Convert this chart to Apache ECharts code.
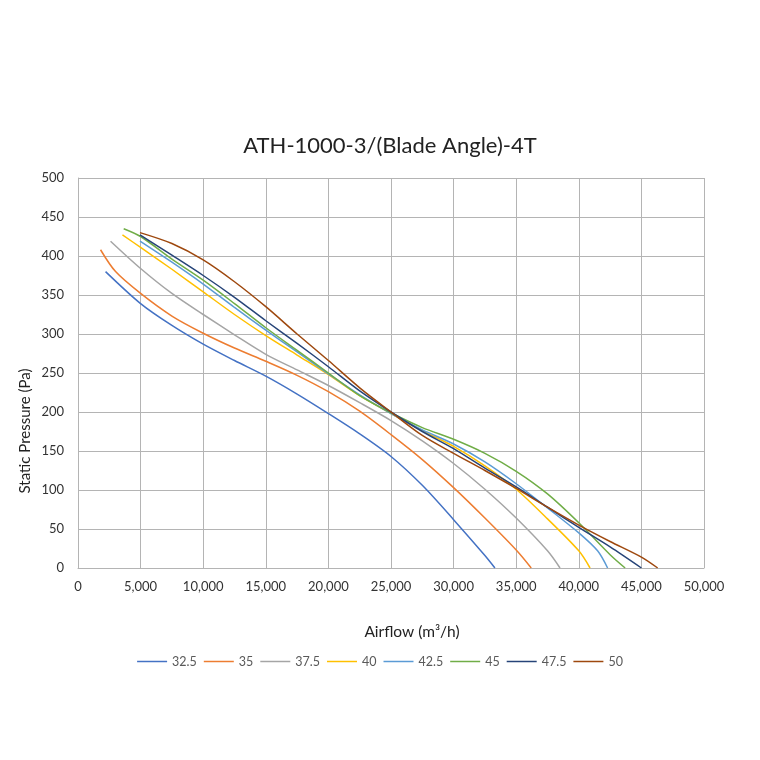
<!DOCTYPE html>
<html>
<head>
    <meta charset="utf-8">
    <title>ATH-1000-3 fan curves</title>
    <script src="https://cdn.jsdelivr.net/npm/echarts@6/dist/echarts.min.js"></script>
    <style>
        body { margin: 0; background: #fff; }
    </style>
</head>
<body>
    <div id="main" style="width: 760px;height:760px;"></div>

    <script type="text/javascript">

        // blade angles (legend names)
        var angles = ['32.5', '35', '37.5', '40', '42.5', '45', '47.5', '50'];
        var colors = ['#4472C4', '#ED7D31', '#A5A5A5', '#FFC000', '#5B9BD5', '#70AD47', '#264478', '#9E480E'];

        // airflow (m3/h) and static pressure (Pa)
        var flow325 = [2200, 5000, 7500, 10000, 12500, 15000, 17500, 20000, 22500, 25000, 27500, 30000, 32500, 33300];
        var pres325 = [380, 339, 311, 287, 266, 246, 223, 198, 172, 143, 106, 62, 16, 0];

        var flow35 = [1800, 3000, 5000, 7500, 10000, 12500, 15000, 17500, 20000, 22500, 25000, 27500, 30000, 32500, 35000, 36200];
        var pres35 = [408, 380, 352, 323, 301, 282, 265, 247, 226, 201, 171, 139, 103, 64, 23, 0];

        var flow375 = [2600, 5000, 7500, 10000, 12500, 15000, 17500, 20000, 22500, 25000, 27500, 30000, 32500, 35000, 37500, 38500];
        var pres375 = [419, 384, 352, 325, 299, 274, 254, 234, 212, 189, 163, 134, 101, 64, 22, 0];

        var flow40 = [3550, 5000, 7500, 10000, 12500, 15000, 17500, 20000, 22500, 25000, 27500, 30000, 32500, 35000, 37500, 40000, 40900];
        var pres40 = [427, 411, 383, 354, 325, 298, 273, 248, 221, 198, 176, 156, 131, 101, 63, 22, 0];

        var flow425 = [4950, 7500, 10000, 12500, 15000, 17500, 20000, 22500, 25000, 27500, 30000, 32500, 35000, 37500, 40000, 41500, 42300];
        var pres425 = [419, 392, 364, 334, 305, 277, 249, 222, 198, 177, 159, 136, 108, 77, 45, 22, 0];

        var flow45 = [3650, 5000, 7500, 10000, 12500, 15000, 17500, 20000, 22500, 25000, 27500, 30000, 32500, 35000, 37500, 40000, 42500, 43700];
        var pres45 = [435, 425, 396, 369, 339, 308, 279, 250, 221, 199, 180, 165, 147, 124, 95, 58, 17, 0];

        var flow475 = [4950, 7500, 10000, 12500, 15000, 17500, 20000, 22500, 25000, 27500, 30000, 32500, 35000, 37500, 40000, 42500, 45000];
        var pres475 = [427, 401, 375, 347, 317, 288, 258, 227, 200, 175, 153, 128, 104, 78, 52, 27, 0];

        var flow50 = [4950, 7500, 10000, 12500, 15000, 17500, 20000, 22500, 25000, 27500, 30000, 32500, 35000, 37500, 40000, 42500, 45000, 46300];
        var pres50 = [430, 416, 395, 367, 335, 300, 266, 231, 200, 170, 147, 125, 102, 78, 55, 34, 14, 0];

        var flows = [flow325, flow35, flow375, flow40, flow425, flow45, flow475, flow50];
        var pressures = [pres325, pres35, pres375, pres40, pres425, pres45, pres475, pres50];

        var font = 'Lato, "Liberation Sans", sans-serif';
        var gridColor = '#b4b4b4';

        // build one line series per blade angle
        var series = [];
        for (var i = 0; i < angles.length; i++) {
            var pts = [];
            for (var j = 0; j < flows[i].length; j++) {
                pts.push([flows[i][j], pressures[i][j]]);
            }
            series.push({
                name: angles[i],
                type: 'line',
                data: pts,
                smooth: 0.3,
                symbol: 'none',
                lineStyle: { width: 1.5, color: colors[i] },
                itemStyle: { color: colors[i] }
            });
        }

        var myChart = echarts.init(document.getElementById('main'));

        var option = {
            animation: false,
            backgroundColor: '#fff',
            color: colors,
            graphic: [
                {
                    type: 'text',
                    x: 390,
                    y: 146,
                    style: {
                        text: 'ATH-1000-3/(Blade Angle)-4T', font: '22px ' + font, fill: '#222',
                        align: 'center', verticalAlign: 'middle'
                    }
                },
                {
                    type: 'text',
                    x: 412,
                    y: 632,
                    style: {
                        text: 'Airflow (m³/h)', font: '15.5px ' + font, fill: '#222',
                        align: 'center', verticalAlign: 'middle'
                    }
                },
                {
                    type: 'text',
                    x: 25,
                    y: 431,
                    rotation: Math.PI / 2,
                    style: {
                        text: 'Static Pressure (Pa)', font: '15px ' + font, fill: '#222',
                        align: 'center', verticalAlign: 'middle'
                    }
                }
            ],
            legend: {
                data: angles,
                left: 'center',
                top: 650,
                icon: 'rect',
                itemWidth: 30,
                itemHeight: 1.5,
                itemGap: 7,
                textStyle: { fontFamily: font, fontSize: 12.5, color: '#595959' }
            },
            grid: {
                left: 78,
                right: 56,
                top: 178,
                bottom: 192
            },
            xAxis: {
                type: 'value',
                min: 0,
                max: 50000,
                interval: 5000,
                axisLine: { show: true, lineStyle: { color: gridColor } },
                axisTick: { show: false },
                axisLabel: {
                    fontFamily: font, fontSize: 13, color: '#333', margin: 12,
                    formatter: function (v) { return v.toLocaleString('en-US'); }
                },
                splitLine: { show: true, lineStyle: { color: gridColor, width: 1 } }
            },
            yAxis: {
                type: 'value',
                min: 0,
                max: 500,
                interval: 50,
                axisLine: { show: true, lineStyle: { color: gridColor } },
                axisTick: { show: false },
                axisLabel: { fontFamily: font, fontSize: 13, color: '#333', margin: 14 },
                splitLine: { show: true, lineStyle: { color: gridColor, width: 1 } }
            },
            series: series
        };

        myChart.setOption(option);
    </script>
</body>
</html>
